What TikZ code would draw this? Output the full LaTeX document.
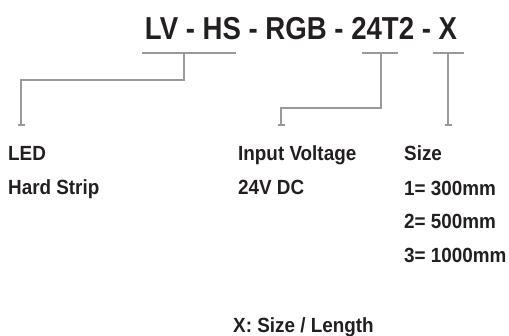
\documentclass[tikz,border=0pt]{standalone}
\usepackage{fontspec}
\setmainfont[FakeStretch=0.92]{Liberation Sans}
\newfontfamily\titlefont[FakeStretch=0.87]{Liberation Sans}
\definecolor{txt}{HTML}{231F20}
\definecolor{ln}{HTML}{9A9A9A}
\begin{document}
\begin{tikzpicture}[x=1pt,y=-1pt,
  lbl/.style={anchor=base west,inner sep=0pt,text=txt,font=\fontsize{20.5}{20.5}\selectfont\bfseries},
  conn/.style={draw=ln,line width=1.1pt},
  tick/.style={draw=ln,line width=1.1pt}]
\useasboundingbox (0,0) rectangle (509,335);
\node[anchor=base,inner sep=0pt,text=txt,font=\titlefont\fontsize{31.7}{31.7}\selectfont\bfseries] (title) at (301,39.5) {LV - HS - RGB - 24T2 - X};
% bars under title
\coordinate (a1) at (142,53); \coordinate (a2) at (236,53); \coordinate (am) at (184,53);
\coordinate (b1) at (362,53); \coordinate (b2) at (398,53); \coordinate (bm) at (381,53);
\coordinate (c1) at (433,53); \coordinate (c2) at (464,53); \coordinate (cm) at (448,53);
\coordinate (ae) at (21,125); \coordinate (be) at (281,125); \coordinate (ce) at (448,125);
\draw[conn] (a1) -- (a2);
\draw[conn] (b1) -- (b2);
\draw[conn] (c1) -- (c2);
\draw[conn] (am) |- (ae |- 0,80) -- (ae);
\draw[conn] (bm) |- (be |- 0,108) -- (be);
\draw[conn] (cm) -- (ce);
\foreach \p in {ae,be,ce} \draw[tick] ([xshift=-3.5pt]\p) -- ([xshift=3.5pt]\p);
% labels
\node[lbl] (led) at (8,160) {LED};
\node[lbl] (hard) at (8,194) {Hard Strip};
\node[lbl] (iv) at (238,160) {Input Voltage};
\node[lbl] (dc) at (238,194) {24V DC};
\node[lbl] (size) at (404,160) {Size};
\node[lbl] (s1) at (404,195) {1= 300mm};
\node[lbl] (s2) at (404,228) {2= 500mm};
\node[lbl] (s3) at (404,262) {3= 1000mm};
\node[lbl] (xs) at (233,332) {X: Size / Length};
\end{tikzpicture}
\end{document}
